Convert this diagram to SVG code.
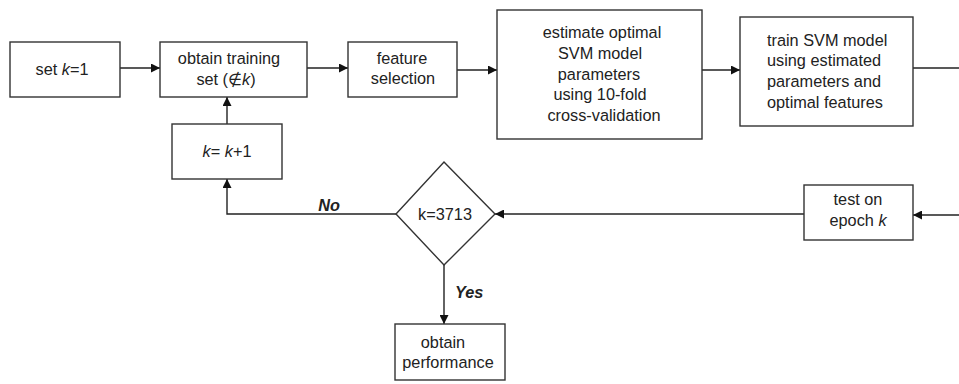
<svg xmlns="http://www.w3.org/2000/svg" width="959" height="384" viewBox="0 0 959 384">
<style>
.box{fill:#fff;stroke:#333;stroke-width:1.4}
.ln{fill:none;stroke:#222;stroke-width:1.4}
text{font-family:"Liberation Sans",Arial,sans-serif;font-size:16.3px;fill:#222}
.c{text-anchor:middle}
.lbl{font-weight:bold;font-style:italic}
</style>
<defs>
<marker id="ah" viewBox="0 0 10 10" refX="10" refY="5" markerWidth="9" markerHeight="9" markerUnits="userSpaceOnUse" orient="auto">
<path d="M0,0 L10,5 L0,10 z" fill="#111"/>
</marker>
</defs>
<rect width="959" height="384" fill="#fff"/>
<g id="connectors">
<line class="ln" x1="120" y1="68" x2="160" y2="68" marker-end="url(#ah)"/>
<line class="ln" x1="307" y1="68" x2="348" y2="68" marker-end="url(#ah)"/>
<line class="ln" x1="457" y1="70" x2="497" y2="70" marker-end="url(#ah)"/>
<line class="ln" x1="702" y1="70" x2="740" y2="70" marker-end="url(#ah)"/>
<line class="ln" x1="913" y1="68" x2="959" y2="68"/>
<line class="ln" x1="959" y1="215" x2="913" y2="215" marker-end="url(#ah)"/>
<line class="ln" x1="804" y1="214" x2="495" y2="214" marker-end="url(#ah)"/>
<polyline class="ln" points="396,214 227,214 227,179" marker-end="url(#ah)"/>
<line class="ln" x1="227" y1="124" x2="227" y2="97" marker-end="url(#ah)"/>
<line class="ln" x1="444" y1="265" x2="444" y2="324" marker-end="url(#ah)"/>
<text class="lbl c" x="329" y="211">No</text>
<text class="lbl" x="455" y="298">Yes</text>
</g>
<g id="set-k">
<rect class="box" x="10" y="42" width="110" height="55"/>
<text class="c" x="62" y="75">set <tspan font-style="italic">k</tspan>=1</text>
</g>
<g id="obtain-training">
<rect class="box" x="160" y="42" width="147" height="55"/>
<text class="c" x="229" y="64">obtain training</text>
<text class="c" x="226" y="85">set (∉<tspan font-style="italic">k</tspan>)</text>
</g>
<g id="feature-selection">
<rect class="box" x="348" y="42" width="109" height="55"/>
<text class="c" x="402" y="64">feature</text>
<text class="c" x="403" y="84">selection</text>
</g>
<g id="estimate">
<rect class="box" x="497" y="10" width="205" height="129"/>
<text class="c" x="602" y="38">estimate optimal</text>
<text class="c" x="600" y="59">SVM model</text>
<text class="c" x="599" y="80">parameters</text>
<text class="c" x="600" y="100">using 10-fold</text>
<text class="c" x="604" y="121">cross-validation</text>
</g>
<g id="train">
<rect class="box" x="740" y="17" width="173" height="109"/>
<text x="767" y="46">train SVM model</text>
<text x="767" y="66">using estimated</text>
<text x="767" y="87">parameters and</text>
<text x="767" y="108">optimal features</text>
</g>
<g id="k-plus-1">
<rect class="box" x="172" y="124" width="110" height="55"/>
<text class="c" x="227" y="157"><tspan font-style="italic">k</tspan>= <tspan font-style="italic">k</tspan>+1</text>
</g>
<g id="decision">
<polygon class="box" points="444,162 495,214 444,265 396,214"/>
<text class="c" x="445" y="220">k=3713</text>
</g>
<g id="test">
<rect class="box" x="804" y="185" width="109" height="55"/>
<text class="c" x="858" y="205">test on</text>
<text class="c" x="858" y="226">epoch <tspan font-style="italic">k</tspan></text>
</g>
<g id="performance">
<rect class="box" x="395" y="324" width="110" height="56"/>
<text class="c" x="443" y="348">obtain</text>
<text class="c" x="448" y="368">performance</text>
</g>
</svg>
